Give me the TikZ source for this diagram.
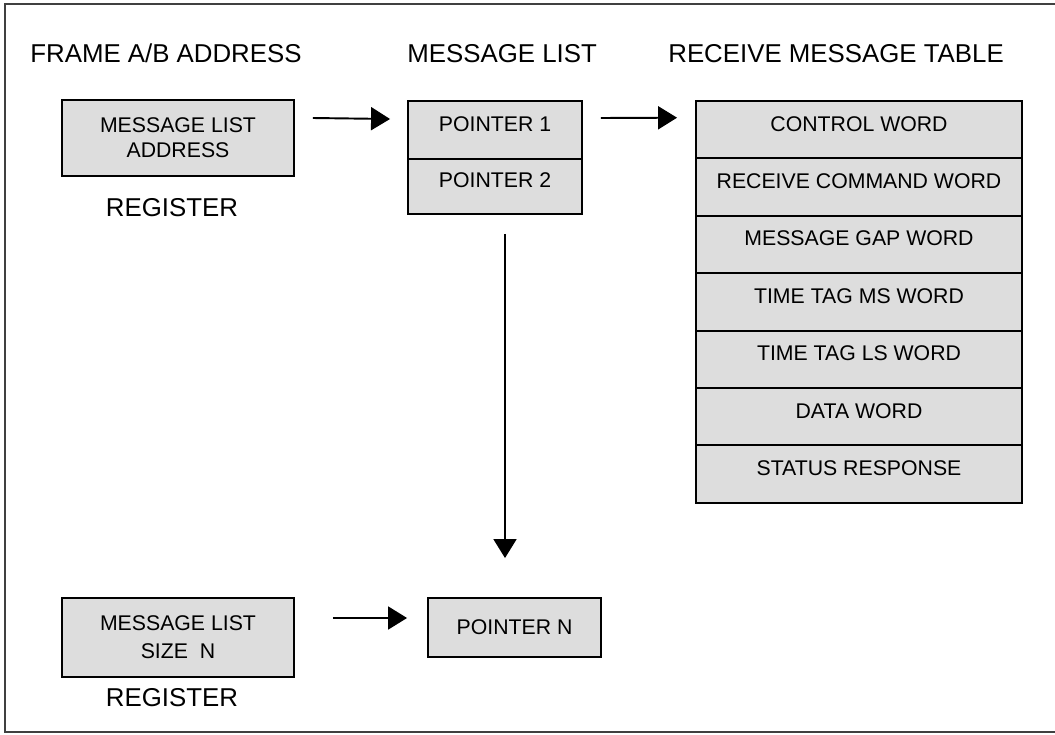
\documentclass[tikz,border=0pt]{standalone}
\usepackage{fontspec}
\setmainfont{Liberation Sans}
\usetikzlibrary{calc,arrows.meta}
\definecolor{cellgrey}{HTML}{DDDDDD}
\tikzset{
	cell/.style={draw, line width=1.1pt, fill=cellgrey, inner sep=0pt, align=center, font=\fontsize{12.1}{14.3}\selectfont},
	onerow/.style={cell, text depth=0.24cm},
	heading/.style={anchor=base west, inner sep=0pt, font=\fontsize{14.7}{17}\selectfont},
	arr/.style={line width=1.1pt, -{Triangle[length=0.38cm,width=0.46cm]}}
}

\begin{document}
\begin{tikzpicture}[x=0.02cm, y=-0.02cm]
			%%%%% START %%%%%
			\useasboundingbox (0, 0) rectangle (1055, 734);
			\clip (0, 0) rectangle (1055, 734);
			\draw[line width=0.9pt, color=black!75] (5, 4) rectangle (1065, 732);
			
			\node[heading] (frameT) at (30, 62) {FRAME A/B ADDRESS};
			\node[heading] (listT) at (407, 62) {MESSAGE LIST};
			\node[heading] (tableT) at (668, 62) {RECEIVE MESSAGE TABLE};
			
			\node[cell, minimum width=4.64cm, minimum height=1.52cm] (addr) at (178, 138) {MESSAGE LIST\\ADDRESS};
			\node[heading, anchor=center] (reg1) at (172, 208) {REGISTER};
			
			\node[onerow, minimum width=3.48cm, minimum height=1.16cm] (ptr1) at (495, 130) {POINTER 1};
			\node[onerow, minimum width=3.48cm, minimum height=1.1cm] (ptr2) at (495, 186.5) {POINTER 2};
			
			\foreach \w [count=\i from 0] in {CONTROL WORD, RECEIVE COMMAND WORD, MESSAGE GAP WORD, TIME TAG MS WORD, TIME TAG LS WORD, DATA WORD, STATUS RESPONSE}
				\node[onerow, minimum width=6.52cm, minimum height=1.148cm] (row\i) at (859, {129.7+57.4*\i}) {\w};
			
			\node[cell, font=\fontsize{12.1}{15.9}\selectfont, minimum width=4.64cm, minimum height=1.58cm] (size) at (178, 637.5) {MESSAGE LIST\\SIZE\ \ N};
			\node[heading, anchor=center] (reg2) at (172, 698) {REGISTER};
			
			\node[cell, minimum width=3.46cm, minimum height=1.18cm] (ptrN) at (514.5, 627.5) {POINTER N};
			
			\draw[arr] ($(addr.east)+(18, -20)$) -- ($(ptr1.west)+(-17, -11)$);
			\draw[arr] ($(ptr1.east)+(18, -12)$) -- ($(row0.west)+(-18, -12)$);
			\draw[arr] ($(ptr2.south)+(10, 19)$) -- ($(ptrN.north)+(-9.5, -39)$);
			\draw[arr] ($(size.east)+(38, -19.5)$) -- ($(ptrN.west)+(-20, -9.5)$);
			%%%%% END %%%%%
\end{tikzpicture}
\end{document}
